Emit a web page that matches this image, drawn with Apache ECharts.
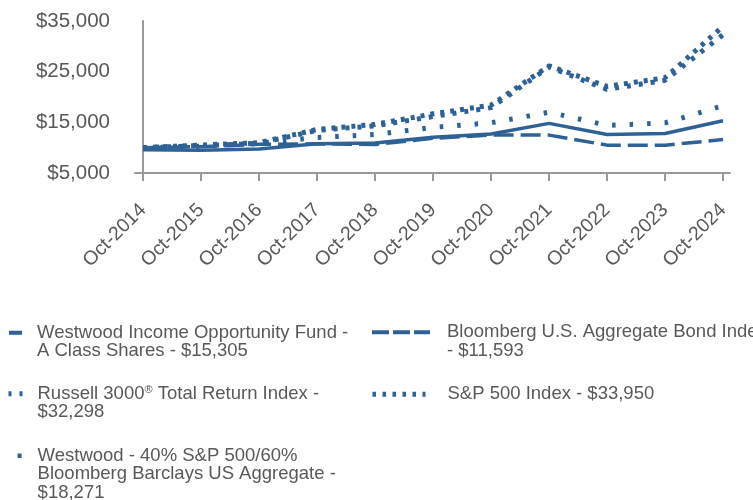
<!DOCTYPE html>
<html lang="en">
<head>
    <meta charset="UTF-8">
    <title>Growth of $10,000</title>
    <script src="https://cdn.jsdelivr.net/npm/echarts@6/dist/echarts.min.js"></script>
    <style>
        html, body { margin: 0; padding: 0; background: #fff; }
    </style>
</head>
<body>
    <div id="main" style="width:753px;height:500px;"></div>
</body>
<script>
// chart data
var categories = ['Oct-2014', 'Oct-2015', 'Oct-2016', 'Oct-2017', 'Oct-2018', 'Oct-2019',
                  'Oct-2020', 'Oct-2021', 'Oct-2022', 'Oct-2023', 'Oct-2024'];
var fundValues   = [9600, 9500, 9750, 10750, 10900, 12050, 12700, 14800, 12600, 12800, 15305];
var bondValues   = [10000, 10196, 10665, 10754, 10620, 11842, 12500, 12480, 10500, 10500, 11593];
var russellValues = [10000, 10400, 10840, 13420, 14310, 16150, 17900, 25900, 21500, 23300, 32298];
var spValues     = [10000, 10520, 10994, 13593, 14592, 16682, 18400, 26156, 22100, 23800, 33950];
var blendValues  = [10000, 10280, 10900, 12000, 12600, 14000, 14900, 17000, 14400, 14900, 18271];
var yTicks = [5000, 15000, 25000, 35000];

var seriesNames = [
    'Westwood Income Opportunity Fund - A Class Shares - $15,305',
    'Bloomberg U.S. Aggregate Bond Index - $11,593',
    'Russell 3000® Total Return Index - $32,298',
    'S&P 500 Index - $33,950',
    'Westwood - 40% S&P 500/60% Bloomberg Barclays US Aggregate - $18,271'
];
var legendLines = [
    ['Westwood Income Opportunity Fund -', 'A Class Shares - $15,305'],
    ['Bloomberg U.S. Aggregate Bond Index', '- $11,593'],
    ['Russell 3000{sup|\u00AE} Total Return Index -', '$32,298'],
    ['S&P 500 Index - $33,950'],
    ['Westwood - 40% S&P 500/60%', 'Bloomberg Barclays US Aggregate -', '$18,271']
];

var blue = '#2e6296';
var grey = '#595959';
var font = '"Liberation Sans", Arial, sans-serif';
var lh = 18.5;

function money(v) {
    return '$' + String(v).replace(/\B(?=(\d{3})+(?!\d))/g, ',');
}

function toPairs(arr) {
    return arr.map(function (v, i) { return [i, v]; });
}

// one legend per item; blank lines on top keep the icon level with the first text line
function makeLegend(idx, left, iconY, iconW, textX, extra) {
    var n = legendLines[idx].length;
    var blank = new Array(n).join('\n');
    var lg = {
        show: true,
        data: [seriesNames[idx]],
        left: left,
        top: iconY - (2 * n - 1) * lh / 2,
        padding: 0,
        itemWidth: iconW,
        itemHeight: 14,
        selectedMode: false,
        formatter: function () { return blank + legendLines[idx].join('\n'); },
        itemStyle: { color: 'rgba(0,0,0,0)', borderColor: 'rgba(0,0,0,0)', borderWidth: 0 },
        textStyle: {
            color: grey,
            fontSize: 18.5,
            fontFamily: font,
            lineHeight: lh,
            padding: [0, 0, 0, textX - left - iconW - 5],
            rich: {
                sup: { fontSize: 11, fontFamily: font, color: grey, verticalAlign: 'top', lineHeight: lh, padding: [0, 0, 6, 0] }
            }
        },
        lineStyle: { width: 5 }
    };
    if (extra) {
        for (var k in extra) lg.lineStyle[k] = extra[k];
    }
    return lg;
}

var chart = echarts.init(document.getElementById('main'), null, { renderer: 'canvas' });

chart.setOption({
    backgroundColor: '#ffffff',
    animation: false,
    grid: {
        left: 135,
        right: 23,
        top: 21,
        bottom: 327
    },
    xAxis: {
        type: 'value',
        min: -0.14,
        max: 10.12,
        axisLine: { show: true, lineStyle: { color: '#999', width: 2 } },
        axisTick: {
            show: true,
            length: 8,
            customValues: categories.map(function (c, i) { return i; }),
            lineStyle: { color: '#999', width: 2 }
        },
        axisLabel: {
            customValues: categories.map(function (c, i) { return i; }),
            formatter: function (v) { return categories[Math.round(v)]; },
            rotate: 45,
            margin: 34,
            color: grey,
            fontSize: 19.5,
            fontFamily: font
        },
        splitLine: { show: false }
    },
    yAxis: {
        type: 'value',
        min: yTicks[0],
        max: yTicks[yTicks.length - 1],
        interval: 10000,
        axisLine: { show: true, lineStyle: { color: '#999', width: 2 } },
        axisTick: { show: false },
        axisLabel: {
            formatter: money,
            margin: 25,
            color: grey,
            fontSize: 20.5,
            fontFamily: font
        },
        splitLine: { show: false }
    },
    legend: [
        makeLegend(0, 7, 332.5, 13, 35, { width: 4, type: 'solid' }),
        makeLegend(1, 370, 332, 58, 445, { type: [17, 4], width: 4 }),
        makeLegend(2, 6, 393.5, 15, 35, { type: [3, 8] }),
        makeLegend(3, 370, 394, 53, 445, { type: [3.5, 6.5] }),
        makeLegend(4, 14, 455.5, 4, 34, { type: 'solid', width: 4.5 })
    ],
    series: [
        {
            name: seriesNames[0],
            type: 'line',
            symbol: 'none',
            data: toPairs(fundValues),
            lineStyle: { color: blue, width: 3.5, type: 'solid' },
            itemStyle: { color: blue },
            z: 5
        },
        {
            name: seriesNames[1],
            type: 'line',
            symbol: 'none',
            data: toPairs(bondValues),
            lineStyle: { color: blue, width: 3.5, type: [20, 7] },
            itemStyle: { color: blue },
            z: 4
        },
        {
            name: seriesNames[2],
            type: 'line',
            symbol: 'none',
            data: toPairs(russellValues),
            lineStyle: { color: blue, width: 5, type: [4, 8] },
            itemStyle: { color: blue },
            z: 3
        },
        {
            name: seriesNames[3],
            type: 'line',
            symbol: 'none',
            data: toPairs(spValues),
            lineStyle: { color: blue, width: 5, type: [4, 6] },
            itemStyle: { color: blue },
            z: 3
        },
        {
            name: seriesNames[4],
            type: 'line',
            symbol: 'none',
            data: toPairs(blendValues),
            lineStyle: { color: blue, width: 5, type: [3.5, 14] },
            itemStyle: { color: blue },
            z: 3
        }
    ]
});
</script>
</html>
